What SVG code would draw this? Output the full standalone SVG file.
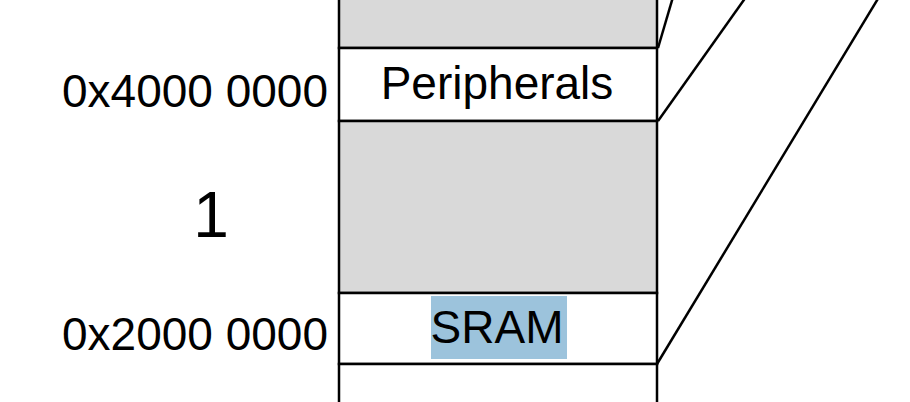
<svg xmlns="http://www.w3.org/2000/svg" width="910" height="402" viewBox="0 0 910 402">
<style>
.cell{stroke:#000;stroke-width:2.5}
.gray{fill:#d9d9d9}
.white{fill:#fff}
.lbl{font-family:"Liberation Sans",Arial,sans-serif;font-size:46px;fill:#000}
.conn{stroke:#000;stroke-width:2.5;fill:none}
</style>
<rect width="910" height="402" fill="#fff"/>
<g id="region-top"><rect class="cell gray" x="339" y="-5" width="318" height="53"/></g>
<g id="peripherals"><rect class="cell white" x="339" y="48" width="318" height="73"/><text class="lbl" x="497" y="99" text-anchor="middle">Peripherals</text></g>
<g id="region-1"><rect class="cell gray" x="339" y="121" width="318" height="172"/></g>
<g id="sram"><rect class="cell white" x="339" y="293" width="318" height="71"/><rect x="431" y="296" width="136" height="63" fill="#9cc3dc"/><text class="lbl" x="497" y="343" text-anchor="middle">SRAM</text></g>
<g id="region-bottom"><rect class="cell white" x="339" y="364" width="318" height="45"/></g>
<g id="labels">
<text class="lbl" x="328" y="107" text-anchor="end">0x4000 0000</text>
<text class="lbl" x="211" y="237" text-anchor="middle" style="font-size:64px">1</text>
<text class="lbl" x="328" y="350" text-anchor="end">0x2000 0000</text>
</g>
<g id="connectors">
<line class="conn" x1="658" y1="48" x2="673" y2="-3"/>
<line class="conn" x1="658" y1="121" x2="746" y2="-3"/>
<line class="conn" x1="657" y1="364" x2="879" y2="-3"/>
</g>
</svg>
